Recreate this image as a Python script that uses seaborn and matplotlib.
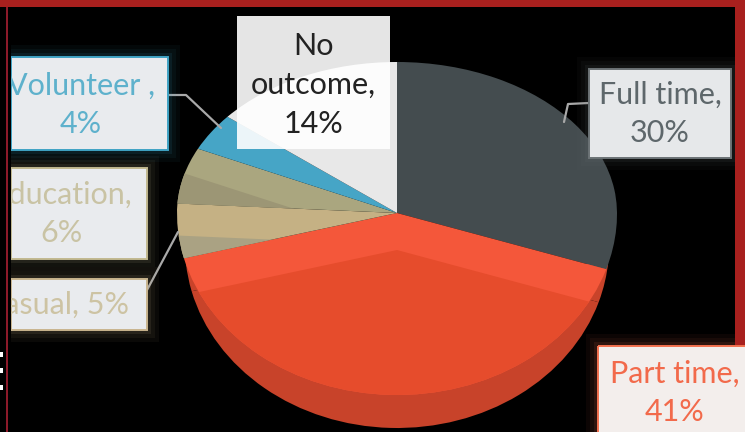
import matplotlib
matplotlib.use("Agg")
import numpy as np
import matplotlib.pyplot as plt
from matplotlib.patches import Rectangle
from matplotlib.transforms import IdentityTransform
import seaborn as sns

# Data
categorias = ['Full time', 'Part time', 'Casual', 'Education', 'Volunteer', 'No outcome']
valores = [30, 41, 5, 6, 4, 14]

cores_topo = ['#444c4f', '#f4573a', '#c5b184', '#aaa67f', '#46a5c6', '#e8e8e8']
cores_sombra = {'Part time': '#e64c2c', 'Casual': '#aaa283', 'Education': '#9c9675'}
desloc_sombra = {'Part time': (0, 37), 'Casual': (0, 32), 'Education': (-90, 0)}
cor_lateral = '#c8432a'

rotulos = ['Full time,\n30%', 'Part time,\n41%', 'Casual, 5%',
           'Education,\n6%', 'Volunteer ,\n4%', 'No\noutcome,\n14%']

sns.set_theme(style='white')
plt.rcParams['font.family'] = ['Lato', 'DejaVu Sans']

L, A = 745, 432
CX, CY = 397, 213
RX, R_CIMA, R_BAIXO = 220, 151, 182


# perspective: the top half of the pie is flatter than the bottom half
def frente(y):
    y = np.asarray(y, dtype=float)
    return np.where(y >= 0, y * R_CIMA, y * R_BAIXO)


def volta(y):
    y = np.asarray(y, dtype=float)
    return np.where(y >= 0, y / R_CIMA, y / R_BAIXO)


def desenhar_pizza(fig, cores, dx=0, dy=0, rx=RX):
    ax = fig.add_axes([dx / L, -dy / A, 1, 1])
    fatias, _ = ax.pie(valores, colors=cores, startangle=90, counterclock=False, radius=1,
                       wedgeprops={'linewidth': 0})
    ax.set_aspect('auto')
    ax.set_yscale('function', functions=(frente, volta))
    ax.set_xlim(-CX / rx, (L - CX) / rx)
    ax.set_ylim(-(A - CY) / R_BAIXO, CY / R_CIMA)
    ax.set_xticks([])
    ax.set_yticks([])
    ax.minorticks_off()
    ax.patch.set_visible(False)
    return dict(zip(categorias, fatias))


fig = plt.figure(figsize=(L / 100, A / 100), dpi=100, facecolor='black')

# Side of the pie: a slightly narrower disc shifted down, only its part below the front edge shows
lateral = desenhar_pizza(fig, [cor_lateral] * len(valores), dy=33, rx=212)
corte = Rectangle((0, 0), L, A - 264, transform=IdentityTransform())
for fatia in lateral.values():
    fatia.set_clip_on(True)
    fatia.set_clip_path(corte)

# Top surface
topo = desenhar_pizza(fig, cores_topo)

# Darker facets inside some slices (pie turns clipping off by default)
for nome, cor in cores_sombra.items():
    dx, dy = desloc_sombra[nome]
    camada = desenhar_pizza(fig, [cor] * len(valores), dx=dx, dy=dy)
    for n, fatia in camada.items():
        fatia.set_visible(n == nome)
    camada[nome].set_clip_on(True)
    camada[nome].set_clip_path(topo[nome])

# Overlay in pixel coordinates for label boxes
ov = fig.add_axes([0, 0, 1, 1])
ov.set_xlim(0, L)
ov.set_ylim(A, 0)
ov.axis('off')

for xs, ys in [([168, 186, 221], [95, 95, 128]),
               ([589, 568, 564], [103, 104, 122]),
               ([147, 178], [290, 232])]:
    ov.plot(xs, ys, color='#a9a9a9', lw=1.6, zorder=2)

caixas = [
    # x0, y0, x1, y1, face, edge, text colour, text x, text y
    (589, 69, 731, 158, '#e6e8ea', '#6b7275', '#5e676b', 660, 114),
    (598, 346, 760, 445, '#f3eeec', '#f4714f', '#f26a4b', 675, 393),
    (11, 279, 147, 330, '#e9ebee', '#c9b48e', '#cdc3a3', 57, 305),
    (11, 168, 147, 259, '#e9ebee', '#c1b88f', '#c9c3a4', 62, 214),
    (11, 57, 168, 150, '#e9ebee', '#3fa3c4', '#5eb1cc', 81, 105),
    (237, 16, 390, 149, '#ffffff', '#ffffff', '#222222', 313, 85),
]
for rot, (x0, y0, x1, y1, face, borda, cor_txt, tx, ty) in zip(rotulos, caixas):
    alpha = 0.9 if rot.startswith('No') else 1
    # soft glow
    if not rot.startswith('No'):
        for g, a in [(12, 0.05), (8, 0.06), (4, 0.1)]:
            ov.add_patch(Rectangle((x0 - g, y0 - g), x1 - x0 + 2 * g, y1 - y0 + 2 * g,
                                   facecolor=borda, edgecolor='none', alpha=a, zorder=2.5))
    ov.add_patch(Rectangle((x0, y0), x1 - x0, y1 - y0, facecolor=face, edgecolor='none',
                           alpha=alpha, zorder=3))
    if not rot.startswith('No'):
        ov.add_patch(Rectangle((x0, y0), x1 - x0, y1 - y0, facecolor='none', edgecolor=borda,
                               lw=1.4, zorder=3.5))
    ov.text(tx, ty, rot, color=cor_txt, fontsize=22, ha='center', va='center',
            linespacing=1.47, zorder=5)

# Slide frame
ov.add_patch(Rectangle((0, 0), 11, A, facecolor='black', edgecolor='none', zorder=6))
ov.add_patch(Rectangle((6, 0), 1.5, A, facecolor='#8c1a2a', edgecolor='none', zorder=7))
ov.add_patch(Rectangle((0, 0), L, 7, facecolor='#a8201e', edgecolor='none', zorder=7))
ov.add_patch(Rectangle((735, 0), 10, 345, facecolor='#a8201e', edgecolor='none', zorder=4))
for y in [352, 368, 385]:
    ov.add_patch(Rectangle((0, y), 2.5, 5, facecolor='white', edgecolor='none', zorder=7))

fig.savefig('out.png', dpi=100, facecolor='black')
